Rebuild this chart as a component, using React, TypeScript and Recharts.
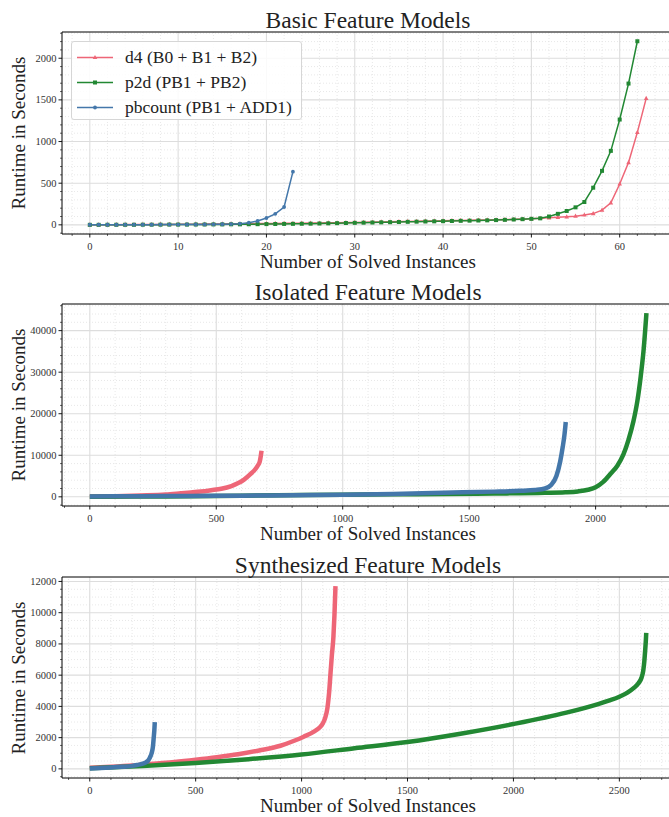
import React from 'react';
import { LineChart, Line, XAxis, YAxis, ReferenceLine } from 'recharts';

// Paul Tol "bright" colours used by the solvers
const D4_COLOR = '#EE6677';
const P2D_COLOR = '#228833';
const PB_COLOR = '#4477AA';
const SERIES_NAMES = ['d4 (B0 + B1 + B2)', 'p2d (PB1 + PB2)', 'pbcount (PB1 + ADD1)'];

// Basic feature models: sorted runtimes, one entry per solved instance
const basicD4 = [
  1, 1, 2, 2, 3, 3, 4, 4, 5, 5,
  6, 7, 8, 9, 10, 11, 12, 13, 14, 15,
  16, 17, 18, 19, 20, 21, 22, 24, 25, 27,
  29, 31, 33, 35, 37, 39, 41, 43, 45, 47,
  49, 51, 53, 55, 57, 59, 61, 63, 66, 69,
  72, 78, 84, 90, 96, 104, 118, 135, 176, 264,
  490, 748, 1110, 1518,
];
const basicP2d = [
  0, 0, 1, 1, 1, 1, 2, 2, 2, 3,
  3, 3, 4, 4, 5, 5, 6, 6, 7, 8,
  9, 10, 11, 12, 13, 14, 16, 18, 20, 22,
  24, 26, 28, 30, 32, 34, 36, 38, 40, 42,
  44, 46, 48, 50, 52, 54, 57, 60, 64, 68,
  72, 78, 100, 132, 166, 210, 274, 446, 648, 888,
  1264, 1696, 2204,
];
const basicPb = [
  1, 1, 1, 1, 2, 2, 2, 2, 3, 3,
  3, 4, 4, 5, 6, 7, 9, 14, 26, 46,
  82, 132, 214, 638,
];

// Isolated feature models: [solved instances, runtime]
const isoD4: [number, number][] = [
  [0, 50], [100, 150], [200, 330], [300, 560], [360, 850], [400, 1050], [440, 1280],
  [480, 1600], [520, 1950], [560, 2600], [585, 3250], [610, 4150], [636, 5500],
  [655, 6700], [665, 7600], [672, 8500], [676, 9800], [679, 11100],
];
const isoP2d: [number, number][] = [
  [0, 20], [300, 80], [600, 250], [850, 450], [1000, 520], [1200, 600], [1400, 700],
  [1600, 800], [1800, 950], [1880, 1080], [1930, 1300], [1970, 1700], [2000, 2300],
  [2030, 3600], [2060, 5600], [2086, 7500], [2110, 10200], [2130, 13700], [2150, 18300],
  [2165, 23000], [2178, 28800], [2190, 35500], [2201, 44200],
];
const isoPb: [number, number][] = [
  [0, 80], [200, 150], [400, 220], [600, 280], [800, 380], [1000, 500], [1200, 700],
  [1400, 1000], [1600, 1250], [1700, 1450], [1760, 1650], [1800, 2000], [1825, 2900],
  [1845, 5000], [1860, 8500], [1870, 12000], [1877, 15000], [1882, 18000],
];

// Synthesized feature models
const synD4: [number, number][] = [
  [0, 70], [100, 130], [200, 210], [300, 330], [400, 440], [500, 580], [600, 740],
  [700, 930], [800, 1180], [900, 1480], [965, 1800], [1010, 2060], [1060, 2400],
  [1085, 2650], [1100, 2900], [1112, 3300], [1122, 3900], [1130, 4900], [1137, 6200],
  [1143, 7300], [1150, 8400], [1155, 9800], [1160, 11700],
];
const synP2d: [number, number][] = [
  [0, 40], [250, 180], [500, 370], [750, 620], [1000, 920], [1250, 1320], [1500, 1720],
  [1750, 2250], [2000, 2870], [2250, 3600], [2400, 4150], [2450, 4370], [2500, 4620],
  [2540, 4900], [2570, 5200], [2590, 5480], [2605, 5850], [2613, 6300], [2618, 6900],
  [2622, 7600], [2625, 8200], [2627, 8700],
];
const synPb: [number, number][] = [
  [0, 20], [50, 50], [100, 85], [150, 130], [200, 190], [225, 255], [250, 330],
  [265, 420], [275, 520], [285, 750], [292, 1000], [298, 1400], [302, 2000],
  [305, 2500], [307, 3000],
];

// tick labels
const basicXTicks = [0, 10, 20, 30, 40, 50, 60];
const basicYTicks = [0, 500, 1000, 1500, 2000];
const isoXTicks = [0, 500, 1000, 1500, 2000];
const isoYTicks = [0, 10000, 20000, 30000, 40000];
const synXTicks = [0, 500, 1000, 1500, 2000, 2500];
const synYTicks = [0, 2000, 4000, 6000, 8000, 10000, 12000];

const FONT = '"Liberation Serif", "Times New Roman", serif';

function steps(from: number, to: number, step: number) {
  const out: number[] = [];
  for (let v = from; v <= to + 1e-9; v += step) out.push(Math.round(v * 1000) / 1000);
  return out;
}

const fromIdx = (vals: number[]) => vals.map((t, n) => ({ n, t }));
const fromPairs = (pts: [number, number][]) => pts.map(([n, t]) => ({ n, t }));

function XTick(props: any) {
  const { x, y, payload, majors } = props;
  const major = majors.includes(payload.value);
  return (
    <g>
      <line x1={x} x2={x} y1={y} y2={y + (major ? 3.5 : 2)} stroke="#000" strokeWidth={major ? 0.9 : 0.6} />
      {major && (
        <text x={x} y={y + 12.5} textAnchor="middle" dominantBaseline="central" fontSize={10.5} fontFamily={FONT} fill="#333">
          {payload.value}
        </text>
      )}
    </g>
  );
}

function YTick(props: any) {
  const { x, y, payload, majors } = props;
  const major = majors.includes(payload.value);
  return (
    <g>
      <line x1={x} x2={x - (major ? 3.5 : 2)} y1={y} y2={y} stroke="#000" strokeWidth={major ? 0.9 : 0.6} />
      {major && (
        <text x={x - 5.5} y={y} textAnchor="end" dominantBaseline="central" fontSize={10.5} fontFamily={FONT} fill="#333">
          {payload.value}
        </text>
      )}
    </g>
  );
}

function markerDot(shape: string, color: string) {
  return (p: any) => {
    const { cx, cy, index } = p;
    if (cx == null || cy == null) return <g key={index} />;
    if (shape === 'tri')
      return <polygon key={index} points={`${cx},${cy - 2.6} ${cx - 2.3},${cy + 1.6} ${cx + 2.3},${cy + 1.6}`} fill={color} />;
    if (shape === 'sq') return <rect key={index} x={cx - 2} y={cy - 2} width={4} height={4} fill={color} />;
    return <circle key={index} cx={cx} cy={cy} r={1.9} fill={color} />;
  };
}

interface SeriesDef {
  name: string;
  color: string;
  shape: string;
  data: { n: number; t: number }[];
}

interface PanelProps {
  top: number;
  title: string;
  xDomain: [number, number];
  yDomain: [number, number];
  xMajor: number[];
  xMinor: number[];
  yMajor: number[];
  yMinor: number[];
  series: SeriesDef[];
  dense: boolean;
  bottomMargin: number;
}

const CHART_W = 680;
const CHART_H = 272;
const PLOT_LEFT = 62;
const PLOT_RIGHT = 674;

function Panel(p: PanelProps) {
  const plotTop = 32;
  const plotBottom = CHART_H - p.bottomMargin - 20;
  const xTicks = [...p.xMinor, ...p.xMajor].sort((a, b) => a - b);
  const yTicks = [...p.yMinor, ...p.yMajor].sort((a, b) => a - b);
  const midX = (PLOT_LEFT + PLOT_RIGHT) / 2;
  const midY = (plotTop + plotBottom) / 2;
  return (
    <div style={{ position: 'absolute', left: 0, top: p.top, width: CHART_W, height: CHART_H }}>
      <LineChart
        width={CHART_W}
        height={CHART_H}
        margin={{ top: plotTop, right: CHART_W - PLOT_RIGHT, left: PLOT_LEFT - 50, bottom: p.bottomMargin }}
      >
        <XAxis
          type="number"
          dataKey="n"
          domain={p.xDomain}
          ticks={xTicks}
          interval={0}
          height={20}
          tickSize={0}
          tickMargin={0}
          tickLine={false}
          axisLine={{ stroke: '#000', strokeWidth: 1 }}
          tick={(tp: any) => <XTick {...tp} majors={p.xMajor} />}
          allowDataOverflow
        />
        <YAxis
          type="number"
          dataKey="t"
          domain={p.yDomain}
          ticks={yTicks}
          interval={0}
          width={50}
          tickSize={0}
          tickMargin={0}
          tickLine={false}
          axisLine={{ stroke: '#000', strokeWidth: 1 }}
          tick={(tp: any) => <YTick {...tp} majors={p.yMajor} />}
          allowDataOverflow
        />
        {p.xMinor.map((v) => (
          <ReferenceLine key={'xm' + v} x={v} stroke="#e2e2e2" strokeWidth={0.8} strokeDasharray="1 2" />
        ))}
        {p.yMinor.map((v) => (
          <ReferenceLine key={'ym' + v} y={v} stroke="#e2e2e2" strokeWidth={0.8} strokeDasharray="1 2" />
        ))}
        {p.xMajor.map((v) => (
          <ReferenceLine key={'xM' + v} x={v} stroke="#dddddd" strokeWidth={1.1} />
        ))}
        {p.yMajor.map((v) => (
          <ReferenceLine key={'yM' + v} y={v} stroke="#dddddd" strokeWidth={1.1} />
        ))}
        <ReferenceLine y={p.yDomain[1]} stroke="#000" strokeWidth={1} />
        {p.series.map((s) => (
          <Line
            key={s.name}
            data={s.data}
            dataKey="t"
            name={s.name}
            type={p.dense ? 'monotone' : 'linear'}
            stroke={s.color}
            strokeWidth={p.dense ? 4.5 : 1.5}
            dot={p.dense ? false : markerDot(s.shape, s.color)}
            activeDot={false}
            isAnimationActive={false}
          />
        ))}
      </LineChart>
      <div
        style={{
          position: 'absolute', left: midX - 300, width: 600, top: plotTop - 12.5 - 15, height: 30,
          lineHeight: '30px', textAlign: 'center', fontFamily: FONT, fontSize: 23.5, color: '#222',
        }}
      >
        {p.title}
      </div>
      <div
        style={{
          position: 'absolute', left: midX - 300, width: 600, top: plotBottom + 27.5 - 15, height: 30,
          lineHeight: '30px', textAlign: 'center', fontFamily: FONT, fontSize: 19, color: '#222',
        }}
      >
        Number of Solved Instances
      </div>
      <div
        style={{
          position: 'absolute', left: 18.5 - 150, width: 300, top: midY - 15, height: 30,
          lineHeight: '30px', textAlign: 'center', fontFamily: FONT, fontSize: 19, color: '#222',
          transform: 'rotate(-90deg)',
        }}
      >
        Runtime in Seconds
      </div>
    </div>
  );
}

function LegendBox({ series }: { series: SeriesDef[] }) {
  return (
    <div
      style={{
        position: 'absolute', left: 71, top: 41, width: 231, height: 79, boxSizing: 'border-box',
        border: '1px solid #d6d6d6', borderRadius: 3, background: 'rgba(255,255,255,0.85)',
      }}
    >
      {series.map((s, i) => (
        <div key={s.name} style={{ position: 'absolute', left: 0, top: 3 + i * 25, height: 25, width: 231 }}>
          <svg width={44} height={25} style={{ position: 'absolute', left: 4, top: 0 }}>
            <line x1={1} x2={37} y1={12.5} y2={12.5} stroke={s.color} strokeWidth={1.5} />
            {markerDot(s.shape, s.color)({ cx: 19, cy: 12.5, index: 0 })}
          </svg>
          <span
            style={{
              position: 'absolute', left: 53, top: 0, lineHeight: '25px', fontFamily: FONT,
              fontSize: 17.5, color: '#222', whiteSpace: 'nowrap',
            }}
          >
            {s.name}
          </span>
        </div>
      ))}
    </div>
  );
}

export default function App() {
  const basicSeries: SeriesDef[] = [
    { name: SERIES_NAMES[0], color: D4_COLOR, shape: 'tri', data: fromIdx(basicD4) },
    { name: SERIES_NAMES[1], color: P2D_COLOR, shape: 'sq', data: fromIdx(basicP2d) },
    { name: SERIES_NAMES[2], color: PB_COLOR, shape: 'dot', data: fromIdx(basicPb) },
  ];
  const isoSeries: SeriesDef[] = [
    { name: SERIES_NAMES[0], color: D4_COLOR, shape: 'tri', data: fromPairs(isoD4) },
    { name: SERIES_NAMES[1], color: P2D_COLOR, shape: 'sq', data: fromPairs(isoP2d) },
    { name: SERIES_NAMES[2], color: PB_COLOR, shape: 'dot', data: fromPairs(isoPb) },
  ];
  const synSeries: SeriesDef[] = [
    { name: SERIES_NAMES[0], color: D4_COLOR, shape: 'tri', data: fromPairs(synD4) },
    { name: SERIES_NAMES[1], color: P2D_COLOR, shape: 'sq', data: fromPairs(synP2d) },
    { name: SERIES_NAMES[2], color: PB_COLOR, shape: 'dot', data: fromPairs(synPb) },
  ];

  return (
    <div
      style={{
        position: 'absolute', left: 0, top: 0, width: 669, height: 817, overflow: 'hidden', background: '#fff',
      }}
    >
      <Panel
        top={0}
        title="Basic Feature Models"
        xDomain={[-3.15, 66.15]}
        yDomain={[-110, 2315]}
        xMajor={basicXTicks}
        xMinor={steps(-2, 66, 2).filter((v) => !basicXTicks.includes(v))}
        yMajor={basicYTicks}
        yMinor={steps(-100, 2300, 100).filter((v) => !basicYTicks.includes(v))}
        series={basicSeries}
        dense={false}
        bottomMargin={18}
      />
      <LegendBox series={basicSeries} />
      <Panel
        top={272}
        title="Isolated Feature Models"
        xDomain={[-110, 2310]}
        yDomain={[-2210, 46410]}
        xMajor={isoXTicks}
        xMinor={steps(-100, 2300, 100).filter((v) => !isoXTicks.includes(v))}
        yMajor={isoYTicks}
        yMinor={steps(-2000, 46000, 2000).filter((v) => !isoYTicks.includes(v))}
        series={isoSeries}
        dense
        bottomMargin={18}
      />
      <Panel
        top={545}
        title="Synthesized Feature Models"
        xDomain={[-131, 2758]}
        yDomain={[-585, 12285]}
        xMajor={synXTicks}
        xMinor={steps(-100, 2700, 100).filter((v) => !synXTicks.includes(v))}
        yMajor={synYTicks}
        yMinor={steps(-500, 12000, 500).filter((v) => !synYTicks.includes(v))}
        series={synSeries}
        dense
        bottomMargin={19}
      />
    </div>
  );
}
